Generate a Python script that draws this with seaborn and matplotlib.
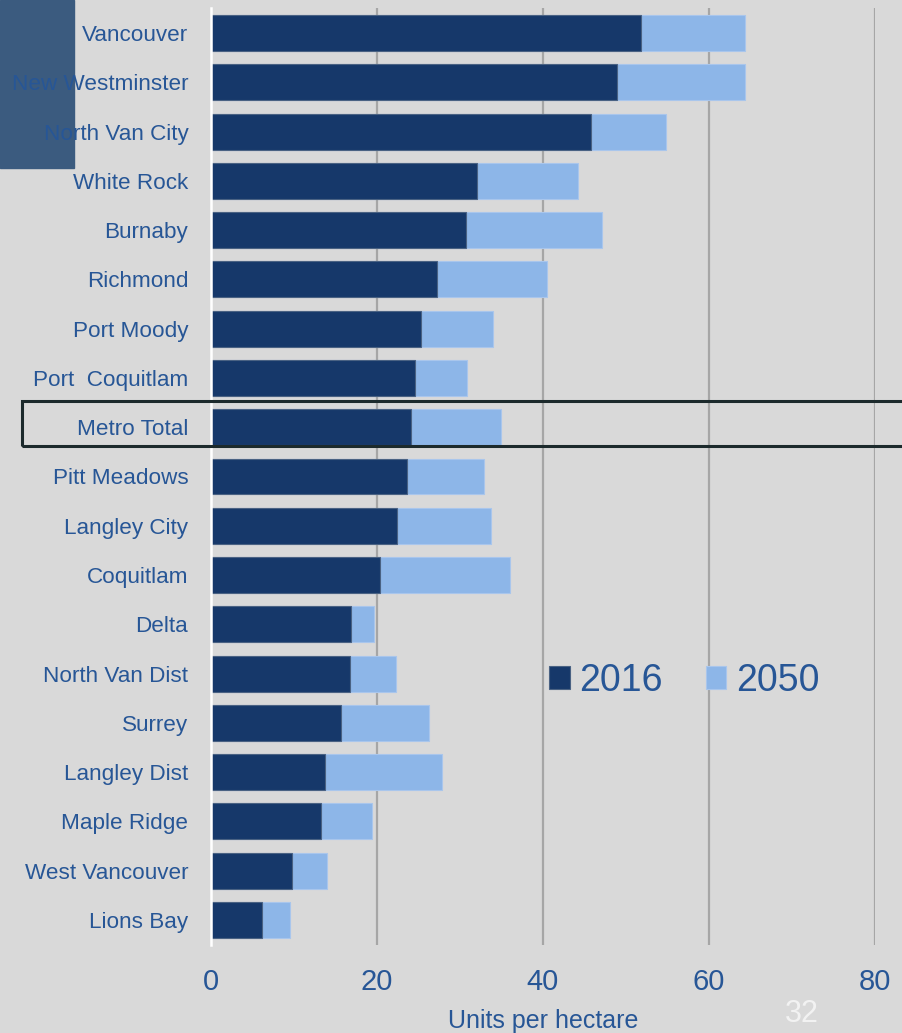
import seaborn as sns
import matplotlib.pyplot as plt
from matplotlib.patches import Rectangle
import pandas as pd

cities = ["Vancouver", "New Westminster", "North Van City", "White Rock", "Burnaby",
          "Richmond", "Port Moody", "Port  Coquitlam", "Metro Total", "Pitt Meadows",
          "Langley City", "Coquitlam", "Delta", "North Van Dist", "Surrey",
          "Langley Dist", "Maple Ridge", "West Vancouver", "Lions Bay"]
density_2016 = [51.8, 48.9, 45.8, 32.1, 30.7, 27.3, 25.3, 24.6, 24.1, 23.6,
                22.4, 20.4, 16.9, 16.8, 15.7, 13.8, 13.3, 9.8, 6.2]
density_2050 = [64.3, 64.4, 54.8, 44.2, 47.1, 40.5, 34.0, 30.9, 35.0, 32.9,
                33.8, 36.0, 19.7, 22.3, 26.3, 27.9, 19.5, 14.0, 9.6]

DARK = "#16386A"
LIGHT = "#8DB6E8"
TEXT = "#275696"
BG = "#D9D9D9"

df = pd.DataFrame({"city": cities, "y2016": density_2016, "y2050": density_2050})

sns.set_style("white")
plt.rcParams["font.family"] = ["Liberation Sans", "DejaVu Sans"]

fig = plt.figure(figsize=(9.02, 10.33), dpi=100, facecolor=BG)
ax = fig.add_axes([210.5 / 902, 1 - 944.6 / 1033, 664.5 / 902, 936.2 / 1033])
ax.set_facecolor(BG)
ax.set_zorder(1)

# slide decoration block behind the labels
fig.patches.append(Rectangle((0, 1 - 168 / 1033), 74 / 902, 168 / 1033,
                             transform=fig.transFigure, color="#3B5B7F", zorder=0))

# stacked look: 2050 total behind, 2016 on top
sns.barplot(df, y="city", x="y2050", orient="h", color=LIGHT, width=0.73,
            edgecolor="#A9C6EC", linewidth=0.8, saturation=1, label="2050", ax=ax, zorder=3)
sns.barplot(df, y="city", x="y2016", orient="h", color=DARK, width=0.73,
            edgecolor="#4A6283", linewidth=0.8, saturation=1, label="2016", ax=ax, zorder=4)

ax.set_xlim(0, 80)
ax.set_xticks([0, 20, 40, 60, 80])
for v in [20, 40, 60, 80]:
    ax.axvline(v, color="#A6A6A6", lw=1.6, zorder=1)

for s in ["top", "right", "bottom"]:
    ax.spines[s].set_visible(False)
ax.spines["left"].set_color("white")
ax.spines["left"].set_linewidth(1.8)
ax.spines["left"].set_zorder(5)

ax.tick_params(axis="y", length=0, pad=16, labelsize=16.2, labelcolor=TEXT)
ax.tick_params(axis="x", length=0, pad=17, labelsize=21, labelcolor=TEXT)
ax.set_ylabel("")
ax.set_xlabel("Units per hectare", fontsize=18, color=TEXT, labelpad=9)

handles, labels = ax.get_legend_handles_labels()
order = [labels.index("2016"), labels.index("2050")]
ax.legend([handles[i] for i in order], [labels[i] for i in order],
          loc="center left", bbox_to_anchor=((549 - 210.5) / 664.5, (944.6 - 681) / 936.2),
          ncol=2, frameon=False, fontsize=27, labelcolor=TEXT,
          handlelength=0.55, handleheight=0.55, handletextpad=0.25,
          columnspacing=1.15, borderpad=0, borderaxespad=0)

# highlight box around Metro Total
fig.patches.append(Rectangle((22 / 902, 1 - 446 / 1033), 1.0, 45 / 1033,
                             transform=fig.transFigure, fill=False,
                             edgecolor="#1C2A2C", lw=2.2, zorder=10))

fig.text(802 / 902, 1 - 1021.5 / 1033, "32", color="#F2F2F2", fontsize=22,
         ha="center", va="baseline")

plt.savefig("out.png", dpi=100, facecolor=BG)
